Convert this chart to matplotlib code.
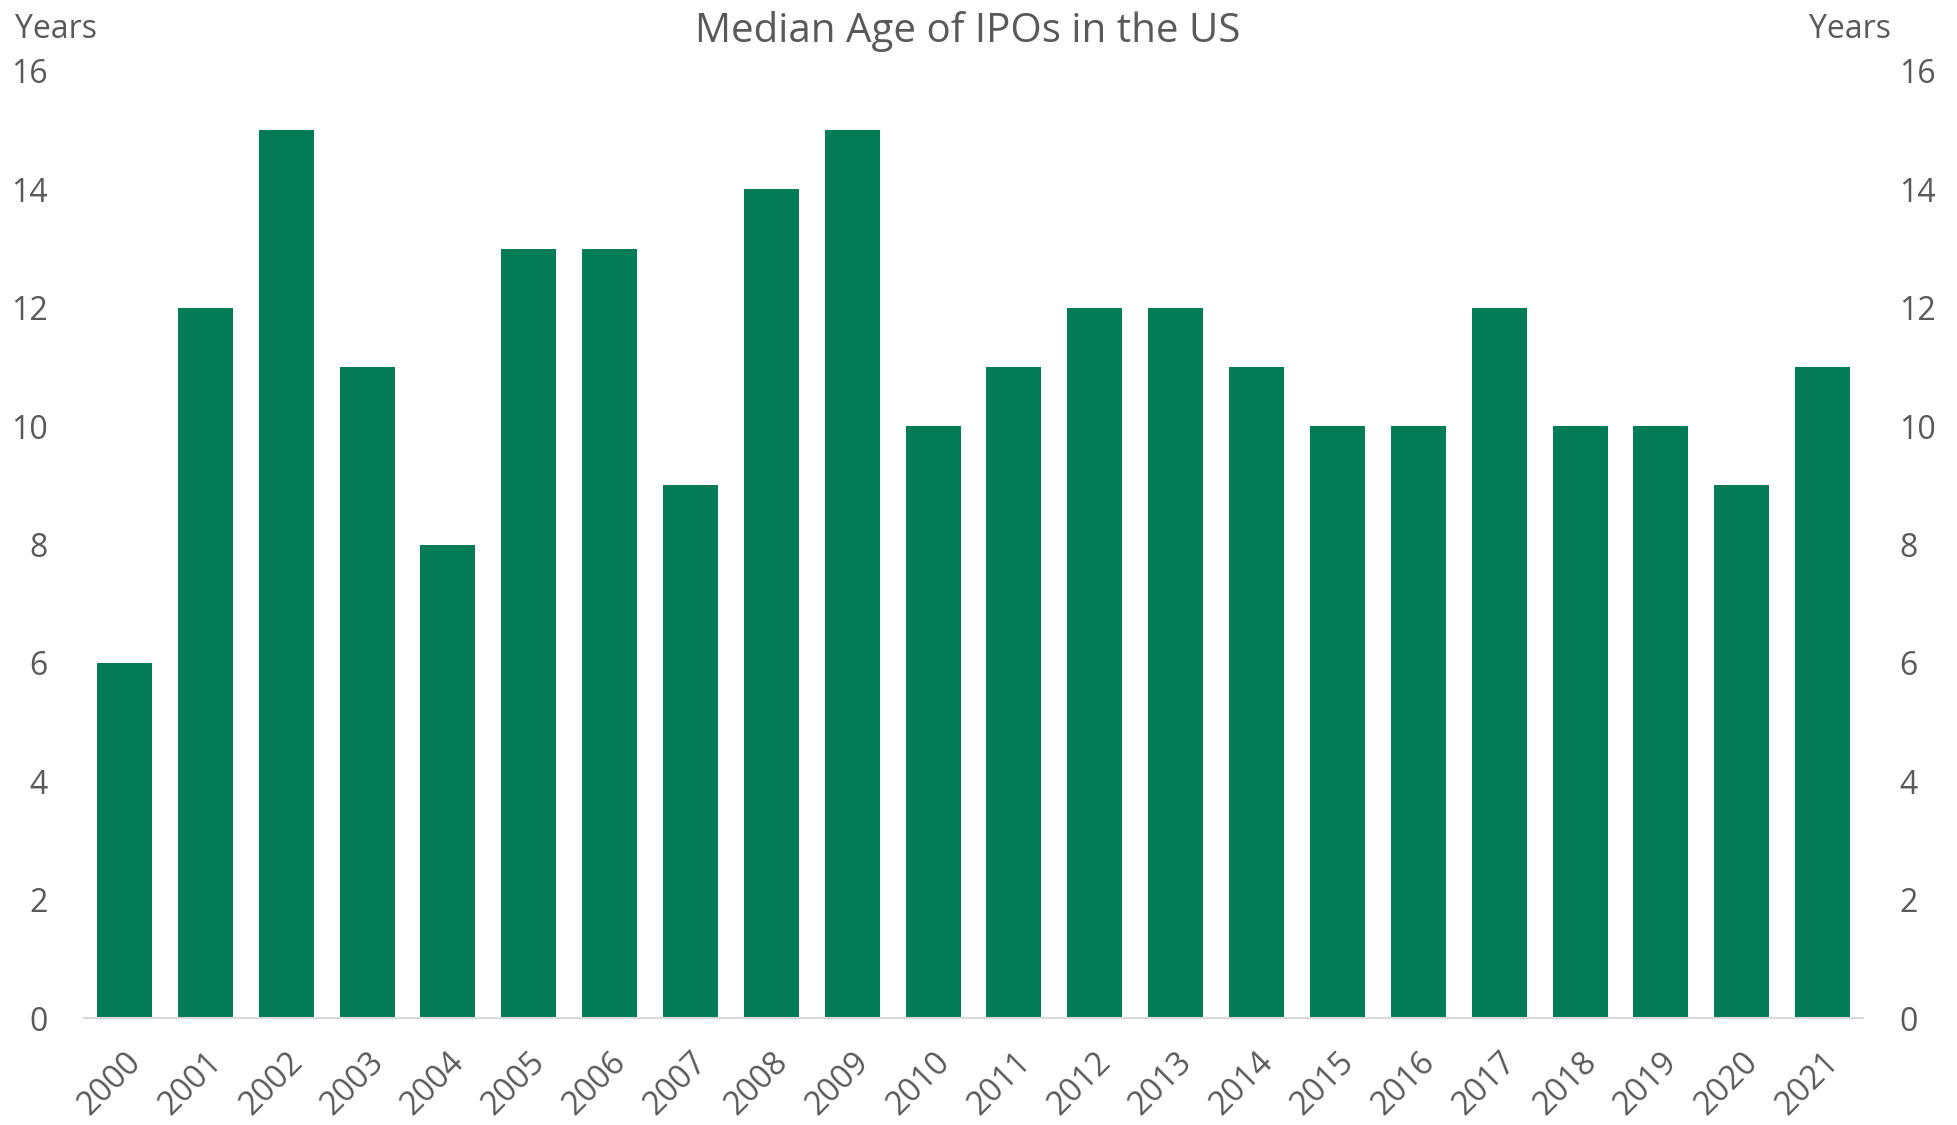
import matplotlib.pyplot as plt
import numpy as np

years = [str(y) for y in range(2000, 2022)]
median_age = [6, 12, 15, 11, 8, 13, 13, 9, 14, 15, 10, 11, 12, 12, 11, 10, 10, 12, 10, 10, 9, 11]
y_ticks = [0, 2, 4, 6, 8, 10, 12, 14, 16]

GREEN = "#037B55"
GREY = "#595959"

plt.rcParams['font.family'] = ['Open Sans', 'DejaVu Sans']

fig = plt.figure(figsize=(19.58, 11.25), dpi=100)
ax = fig.add_axes([0.0429, 0.0951, 0.9086, 0.8418])

x = np.arange(len(years))
ax.bar(x, median_age, width=0.68, color=GREEN)

ax.set_xlim(-0.5, len(years) - 0.5)
ax.set_ylim(0, 16)
ax.set_yticks(y_ticks)
ax.set_xticks(x)
ax.set_xticklabels(years, rotation=45, ha='right', rotation_mode='anchor')

for side in ['top', 'left', 'right']:
    ax.spines[side].set_visible(False)
ax.spines['bottom'].set_color('#D9D9D9')
ax.spines['bottom'].set_linewidth(1.5)

ax.tick_params(axis='x', length=0, pad=20, labelsize=23.5, labelcolor=GREY)
ax.tick_params(axis='y', length=0, pad=26, labelsize=23, labelcolor=GREY,
               labelleft=True, labelright=True)

fig.text(0.0077, 0.988, "Years", fontsize=23, color=GREY, ha='left', va='top')
fig.text(0.9658, 0.988, "Years", fontsize=23, color=GREY, ha='right', va='top')
fig.text(0.4944, 0.99, "Median Age of IPOs in the US", fontsize=29, color=GREY,
         ha='center', va='top')

fig.savefig("out.png", dpi=100)
